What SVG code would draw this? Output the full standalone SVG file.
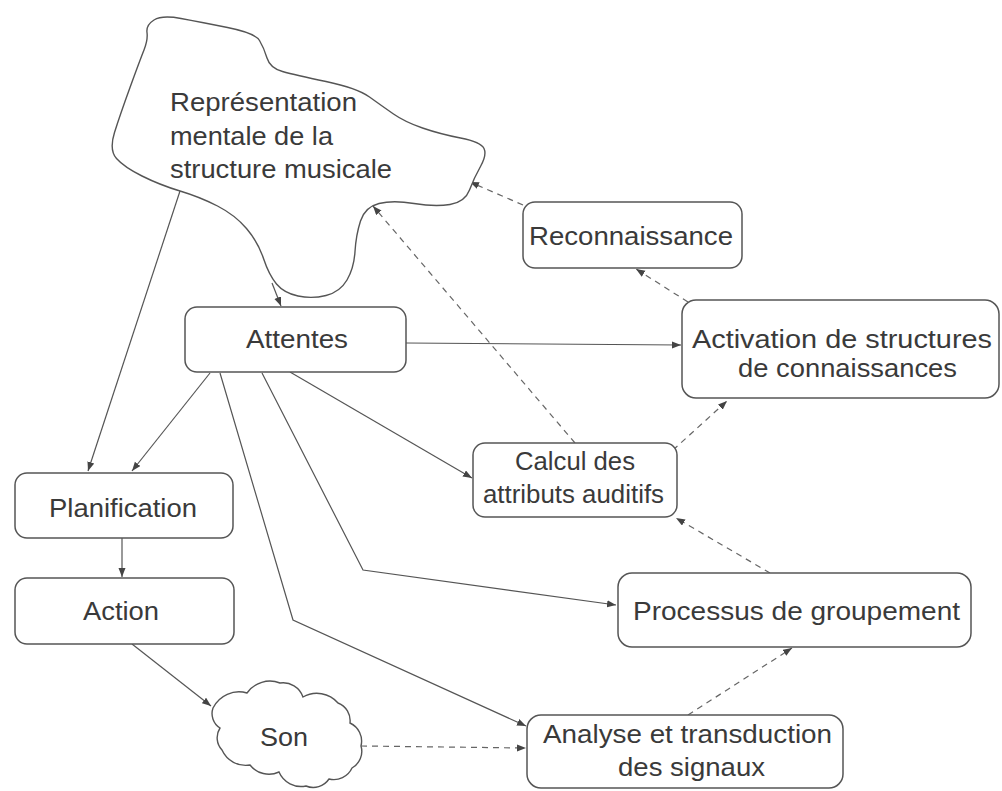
<svg xmlns="http://www.w3.org/2000/svg" width="1002" height="791" viewBox="0 0 1002 791">
<style>
.box{fill:#fff;stroke:#555;stroke-width:1.5}
.shape{fill:#fff;stroke:#555;stroke-width:1.4}
.lbl{font-family:"Liberation Sans",Arial,sans-serif;font-size:25px;fill:#3a3a3a}
.c{fill:none;stroke:#555;stroke-width:1.2;marker-end:url(#ah)}
.d{fill:none;stroke:#666;stroke-width:1.2;stroke-dasharray:6 5;marker-end:url(#ah)}
</style>
<defs>
<marker id="ah" markerUnits="userSpaceOnUse" markerWidth="10" markerHeight="8" refX="9" refY="3.5" orient="auto">
<path d="M0,0 L9,3.5 L0,7 z" fill="#444"/>
</marker>
</defs>
<rect width="1002" height="791" fill="#fff"/>
<g id="connectors">
<path class="c" d="M180,191 L88,471"/>
<path class="c" d="M272,283 L281,306"/>
<path class="c" d="M210,373 L132,471"/>
<path class="c" d="M406,343 L681,345"/>
<path class="c" d="M290,372 L472,478"/>
<path class="c" d="M262,373 L363,570 L616,605"/>
<path class="c" d="M220,373 L293,620 L526,726"/>
<path class="c" d="M122,538 L122,577"/>
<path class="c" d="M132,644 L211,706"/>
<path class="d" d="M361,746 L526,748"/>
<path class="d" d="M688,715 L792,648"/>
<path class="d" d="M770,573 L676,518"/>
<path class="d" d="M673,450 L727,401"/>
<path class="d" d="M575,443 L373,206"/>
<path class="d" d="M688,302 L636,269"/>
<path class="d" d="M523,205 L470,182"/>
</g>
<g id="representation">
<path class="shape" d="M147,32.5 Q146,25 154,20 Q162,15 181,18.5 Q200,22 227.5,27.5 Q255,33 259.5,40.5 Q264,48 267,58 Q270,68 282.5,71.5 Q295,75 326,81.5 Q357,88 369.5,97 Q382,106 393.5,114 Q405,122 422.5,128 Q440,134 460.5,138 Q481,142 484,148.5 Q487,155 480.5,166.5 Q474,178 469.5,190 Q465,202 450,204.5 Q435,207 414,203.5 Q393,200 379,203.5 Q365,207 360.5,221 Q356,235 355,251.5 Q354,268 347,280 Q340,292 326,295.5 Q312,299 298,296 Q284,293 276.5,284 Q269,275 263.5,258.5 Q258,242 246.5,228.5 Q235,215 217.5,206 Q200,197 180,191 Q160,185 142,176 Q124,167 116.5,158.5 Q109,150 114.5,132.5 Q120,115 130,87.5 Q140,60 144,50 Q148,40 147,32.5 Z"/>
<text class="lbl" x="170" y="111" textLength="187" lengthAdjust="spacingAndGlyphs">Représentation</text>
<text class="lbl" x="170" y="145" textLength="163" lengthAdjust="spacingAndGlyphs">mentale de la</text>
<text class="lbl" x="170" y="178" textLength="222" lengthAdjust="spacingAndGlyphs">structure musicale</text>
</g>
<g id="reconnaissance">
<rect class="box" x="523" y="202" width="219" height="66" rx="12"/>
<text class="lbl" x="529" y="245" textLength="204" lengthAdjust="spacingAndGlyphs">Reconnaissance</text>
</g>
<g id="activation">
<rect class="box" x="682" y="300" width="317" height="98" rx="14"/>
<text class="lbl" x="692" y="348" textLength="300" lengthAdjust="spacingAndGlyphs">Activation de structures</text>
<text class="lbl" x="738" y="377" textLength="219" lengthAdjust="spacingAndGlyphs">de connaissances</text>
</g>
<g id="attentes">
<rect class="box" x="185" y="307" width="221" height="65" rx="12"/>
<text class="lbl" x="246" y="348" textLength="102" lengthAdjust="spacingAndGlyphs">Attentes</text>
</g>
<g id="planification">
<rect class="box" x="15" y="473" width="218" height="65" rx="12"/>
<text class="lbl" x="49" y="517" textLength="148" lengthAdjust="spacingAndGlyphs">Planification</text>
</g>
<g id="calcul">
<rect class="box" x="473" y="443" width="204" height="74" rx="12"/>
<text class="lbl" x="515" y="470" textLength="120" lengthAdjust="spacingAndGlyphs">Calcul des</text>
<text class="lbl" x="483" y="503" textLength="181" lengthAdjust="spacingAndGlyphs">attributs auditifs</text>
</g>
<g id="action">
<rect class="box" x="15" y="578" width="219" height="66" rx="12"/>
<text class="lbl" x="83" y="620" textLength="76" lengthAdjust="spacingAndGlyphs">Action</text>
</g>
<g id="processus">
<rect class="box" x="618" y="573" width="353" height="74" rx="14"/>
<text class="lbl" x="633" y="620" textLength="327" lengthAdjust="spacingAndGlyphs">Processus de groupement</text>
</g>
<g id="analyse">
<rect class="box" x="527" y="715" width="316" height="73" rx="14"/>
<text class="lbl" x="543" y="743" textLength="289" lengthAdjust="spacingAndGlyphs">Analyse et transduction</text>
<text class="lbl" x="618" y="776" textLength="147" lengthAdjust="spacingAndGlyphs">des signaux</text>
</g>
<g id="son">
<path class="shape" d="M213,708 A29,29 0 0 1 247,693 A28,28 0 0 1 280,683 A21,21 0 0 1 303,697 A28,28 0 0 1 338,703 A19,19 0 0 1 350,723 A20,20 0 0 1 361,746 A19,19 0 0 1 352,768 A20,20 0 0 1 329,779 A19,19 0 0 1 306,786 A24,24 0 0 1 279,772 A24,24 0 0 1 250,765 A26,26 0 0 1 222,750 A18,18 0 0 1 220,728 A17,17 0 0 1 213,708 Z"/>
<text class="lbl" x="260" y="746" textLength="48" lengthAdjust="spacingAndGlyphs">Son</text>
</g>
</svg>
